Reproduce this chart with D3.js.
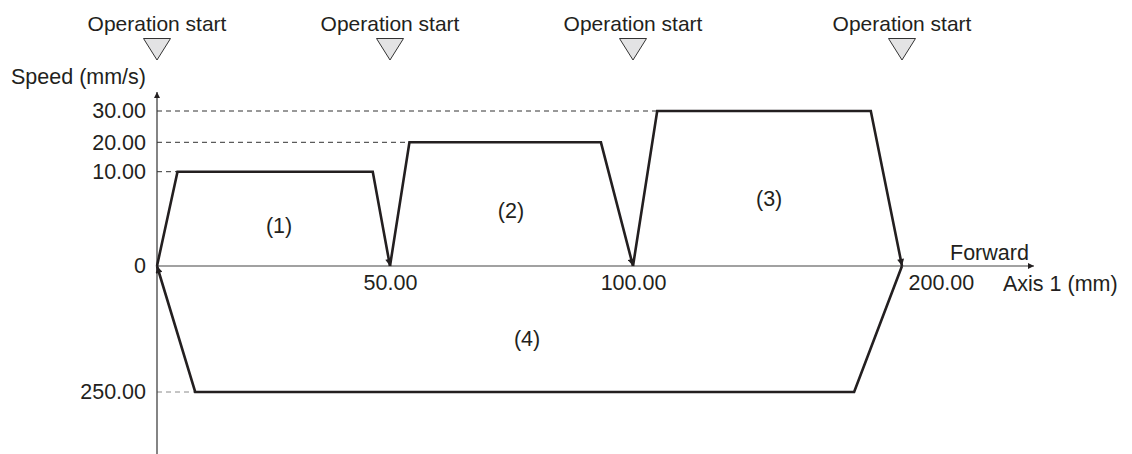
<!DOCTYPE html>
<html>
<head>
<meta charset="utf-8">
<script src="https://cdn.jsdelivr.net/npm/d3@7"></script>
<style>
  body { margin: 0; background: #fff; }
  text { font-family: "Liberation Sans", Arial, sans-serif; fill: #231f20; }
</style>
</head>
<body>
<script>
// positions along axis 1 (mm) where an operation starts
var startPositions = [0, 50, 100, 200];
var startLabel = "Operation start";

// axis ticks (the drawing is schematic, so the scales are piecewise)
var xTicks = [50, 100, 200];
var xTickLabels = ["50.00", "100.00", "200.00"];
var yTicks = [30, 20, 10, 0, -250];
var yTickLabels = ["30.00", "20.00", "10.00", "0", "250.00"];

// speed profiles: [position mm, speed mm/s]
var profile1 = [[0, 0], [4.4, 10], [46.3, 10], [50, 0]];
var profile2 = [[50, 0], [54, 20], [93.4, 20], [100, 0]];
var profile3 = [[100, 0], [109, 30], [188.4, 30], [200, 0]];
var profile4 = [[200, 0], [182.2, -250], [8.2, -250], [0, 0]];
var profiles = [profile1, profile2, profile3, profile4];

// region labels, in data units
var regionNames = ["(1)", "(2)", "(3)", "(4)"];
var regionX = [26.2, 74.9, 150.6, 78.2];
var regionY = [4.35, 5.9, 7.2, -143];

var w = 1132, h = 454;
var ink = "#231f20";

var svg = d3.select("body").append("svg")
    .attr("width", w)
    .attr("height", h);

var x = d3.scaleLinear().domain([0, 50, 100, 200]).range([157, 390, 633, 902]);
var y = d3.scaleLinear().domain([-250, 0, 10, 20, 30]).range([392, 266, 171.7, 142.3, 111]);

/* arrow markers */
var defs = svg.append("defs");
defs.append("marker")
    .attr("id", "axisArrow")
    .attr("viewBox", "0 0 10 10")
    .attr("refX", 10).attr("refY", 5)
    .attr("markerUnits", "userSpaceOnUse")
    .attr("markerWidth", 9).attr("markerHeight", 6)
    .attr("orient", "auto")
    .append("path").attr("d", "M0,0L10,5L0,10Z").attr("fill", ink);
defs.append("marker")
    .attr("id", "lineArrow")
    .attr("viewBox", "0 0 10 10")
    .attr("refX", 10).attr("refY", 5)
    .attr("markerUnits", "userSpaceOnUse")
    .attr("markerWidth", 10).attr("markerHeight", 7)
    .attr("orient", "auto")
    .append("path").attr("d", "M0,0L10,5L0,10Z").attr("fill", ink);

/* dashed guides from the y axis to the first plateau point of each profile */
var guides = profiles.map(function(p) {
    var plateau = p.filter(function(d) { return d[1] !== 0; });
    return plateau.reduce(function(a, b) { return b[0] < a[0] ? b : a; });
});
svg.selectAll(".guide")
    .data(guides)
    .enter().append("line")
    .attr("x1", x(0))
    .attr("x2", function(d) { return x(d[0]); })
    .attr("y1", function(d) { return y(d[1]); })
    .attr("y2", function(d) { return y(d[1]); })
    .attr("stroke", function(d) { return d[1] < 0 ? "#8a8a8a" : "#333"; })
    .attr("stroke-width", 1)
    .attr("stroke-dasharray", "5,4");

/* axes */
svg.append("line")
    .attr("x1", x(0)).attr("x2", x(0))
    .attr("y1", h).attr("y2", 92)
    .attr("stroke", "#333").attr("stroke-width", 1.2)
    .attr("marker-end", "url(#axisArrow)");
svg.append("line")
    .attr("x1", x(0)).attr("x2", 1034)
    .attr("y1", y(0)).attr("y2", y(0))
    .attr("stroke", "#444").attr("stroke-width", 1.2)
    .attr("marker-end", "url(#axisArrow)");

var yAxis = d3.axisLeft(y)
    .tickValues(yTicks)
    .tickSize(0)
    .tickPadding(11)
    .tickFormat(function(d, i) { return yTickLabels[i]; });
var gy = svg.append("g").attr("transform", "translate(" + x(0) + ",0)").call(yAxis);
gy.select(".domain").remove();
gy.selectAll("text")
    .attr("font-size", "21.5px")
    .attr("font-family", "Liberation Sans, Arial, sans-serif")
    .attr("fill", ink);

var xAxis = d3.axisBottom(x)
    .tickValues(xTicks)
    .tickSize(0)
    .tickPadding(9)
    .tickFormat(function(d, i) { return xTickLabels[i]; });
var gx = svg.append("g").attr("transform", "translate(0," + y(0) + ")").call(xAxis);
gx.select(".domain").remove();
gx.selectAll("text")
    .attr("font-size", "21.5px")
    .attr("font-family", "Liberation Sans, Arial, sans-serif")
    .attr("fill", ink)
    .attr("text-anchor", function(d) { return d === 200 ? "start" : "middle"; })
    .attr("dx", function(d) { return d === 200 ? 6 : 0; });

/* speed profiles */
var line = d3.line()
    .x(function(d) { return x(d[0]); })
    .y(function(d) { return y(d[1]); });
svg.selectAll(".profile")
    .data(profiles)
    .enter().append("path")
    .attr("d", line)
    .attr("fill", "none")
    .attr("stroke", ink)
    .attr("stroke-width", 2.6)
    .attr("stroke-linejoin", "miter")
    .attr("marker-end", "url(#lineArrow)");

svg.selectAll(".region")
    .data(regionNames)
    .enter().append("text")
    .attr("x", function(d, i) { return x(regionX[i]); })
    .attr("y", function(d, i) { return y(regionY[i]); })
    .attr("dy", "0.35em")
    .attr("text-anchor", "middle")
    .attr("font-size", "21.5px")
    .text(function(d) { return d; });

/* operation start markers */
svg.selectAll(".startText")
    .data(startPositions)
    .enter().append("text")
    .attr("x", function(d) { return x(d); })
    .attr("y", 31)
    .attr("text-anchor", "middle")
    .attr("font-size", "21px")
    .text(startLabel);
svg.selectAll(".startMark")
    .data(startPositions)
    .enter().append("path")
    .attr("d", function(d) {
        var cx = x(d);
        return "M" + (cx - 13.5) + ",38.5L" + (cx + 13.5) + ",38.5L" + cx + ",60Z";
    })
    .attr("fill", "#e3e3e4")
    .attr("stroke", "#333")
    .attr("stroke-width", 1);

/* axis titles */
svg.append("text")
    .attr("x", 11).attr("y", 84)
    .attr("font-size", "21.5px")
    .text("Speed (mm/s)");
svg.append("text")
    .attr("x", 950).attr("y", 260)
    .attr("font-size", "21.5px")
    .text("Forward");
svg.append("text")
    .attr("x", 1003).attr("y", 291)
    .attr("font-size", "21.5px")
    .text("Axis 1 (mm)");
</script>
</body>
</html>
